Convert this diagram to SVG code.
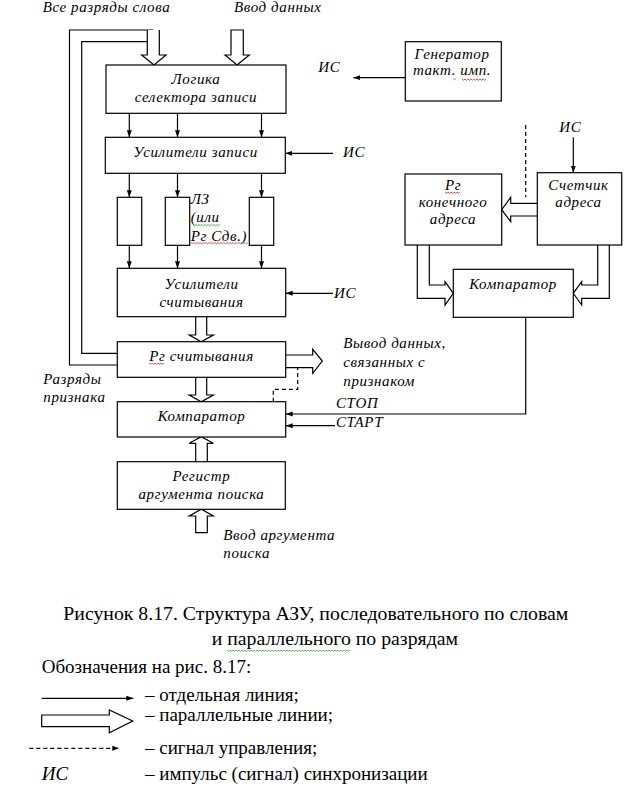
<svg xmlns="http://www.w3.org/2000/svg" width="629" height="800" viewBox="0 0 629 800">
<style>
.b{fill:#fff;stroke:#000;stroke-width:1.2}
.l{fill:none;stroke:#000;stroke-width:1.2}
.d{fill:none;stroke:#000;stroke-width:1.2;stroke-dasharray:4 3}
.w{fill:#fff;stroke:#000;stroke-width:1.2}
.t{font-family:"Liberation Serif","Times New Roman",serif;font-style:italic;font-size:15px;letter-spacing:0.6px;fill:#000}
.c{text-anchor:middle}
.r{font-family:"Liberation Serif","Times New Roman",serif;font-size:19px;fill:#000}
.cap{font-size:19.8px}
.sq{fill:none;stroke:#e02020;stroke-width:0.8}
.sg{fill:none;stroke:#30a030;stroke-width:0.8}
</style>
<defs>
<marker id="a" markerWidth="8" markerHeight="6" refX="7" refY="3" orient="auto" markerUnits="userSpaceOnUse">
<path d="M0,0.5 L7,3 L0,5.5 Z" fill="#000"/>
</marker>
</defs>
<rect width="629" height="800" fill="#fff"/>

<g id="connectors">
<polyline class="l" points="153,30 69.5,30 69.5,365 117.3,365"/>
<polyline class="l" points="147.3,41.7 81.7,41.7 81.7,353.3 117.3,353.3"/>
<path class="w" d="M147.3,30 V55 H141.7 L154,65 L166,55 H159.3 V30"/>
<path class="w" d="M231,30 V55 H225 L237,65 L249.3,55 H243.3 V30 Z"/>
<path class="w" d="M195.7,316.7 V335 H189.3 L201.2,341.7 L213.3,335 H206.7 V316.7"/>
<path class="w" d="M195.7,377.3 V395 H189.3 L201.2,401.7 L213.3,395 H206.7 V377.3"/>
<path class="w" d="M195.7,461.7 V443.3 H189.3 L201.3,436.7 L213.3,443.3 H207.3 V461.7"/>
<path class="w" d="M195.7,532.7 V516 H189.3 L201.3,509.3 L213.3,516 H207.3 V532.7 Z"/>
<path class="w" d="M285.7,355 H312.7 V349.3 L322.3,361 L312.7,373.3 V367.7 H285.7"/>
<path class="w" d="M537.3,203.3 H510.7 V197.3 L501.7,209.7 L510.7,221.7 V216 H537.3"/>
<path class="w" d="M429.3,245 V285 H445 V281.7 L453.3,293.3 L445,305 V298.3 H417.3 V245"/>
<path class="w" d="M597.7,245 V285 H581.7 V281.7 L573.3,293.3 L581.7,305 V298.3 H609.3 V245"/>
<line class="l" x1="129.3" y1="113.3" x2="129.3" y2="137.3" marker-end="url(#a)"/>
<line class="l" x1="177.5" y1="113.3" x2="177.5" y2="137.3" marker-end="url(#a)"/>
<line class="l" x1="261.5" y1="113.3" x2="261.5" y2="137.3" marker-end="url(#a)"/>
<line class="l" x1="129.3" y1="173.3" x2="129.3" y2="197.3" marker-end="url(#a)"/>
<line class="l" x1="177.5" y1="173.3" x2="177.5" y2="197.3" marker-end="url(#a)"/>
<line class="l" x1="261.5" y1="173.3" x2="261.5" y2="197.3" marker-end="url(#a)"/>
<line class="l" x1="129.3" y1="245.3" x2="129.3" y2="268.3" marker-end="url(#a)"/>
<line class="l" x1="177.5" y1="245.3" x2="177.5" y2="268.3" marker-end="url(#a)"/>
<line class="l" x1="261.5" y1="245.3" x2="261.5" y2="268.3" marker-end="url(#a)"/>
<line class="l" x1="333" y1="153.3" x2="285.3" y2="153.3" marker-end="url(#a)"/>
<line class="l" x1="333" y1="293.3" x2="285.7" y2="293.3" marker-end="url(#a)"/>
<line class="l" x1="405.3" y1="77.7" x2="353.3" y2="77.7" marker-end="url(#a)"/>
<line class="l" x1="573.3" y1="137.3" x2="573.3" y2="172.7" marker-end="url(#a)"/>
<line class="d" x1="525.7" y1="125" x2="525.7" y2="197.3"/>
<polyline class="l" points="525.7,317.3 525.7,414 285.7,414" marker-end="url(#a)"/>
<line class="l" x1="335" y1="425.7" x2="285.7" y2="425.7" marker-end="url(#a)"/>
<polyline class="d" points="273.3,401.7 273.3,389.3 297.7,389.3 297.7,367.7"/>
</g>

<g id="logic">
<rect class="b" x="106" y="65" width="180" height="48.3"/>
<text class="t c" x="196" y="84">Логика</text>
<text class="t c" x="196" y="102">селектора записи</text>
</g>
<g id="write-amp">
<rect class="b" x="105.3" y="137.3" width="180" height="36"/>
<text class="t c" x="195.5" y="157">Усилители записи</text>
</g>
<g id="dl1"><rect class="b" x="117.3" y="197.3" width="24.4" height="48"/></g>
<g id="dl2"><rect class="b" x="165.3" y="197.3" width="24.4" height="48"/></g>
<g id="dl3"><rect class="b" x="249.3" y="197.3" width="24.4" height="48"/></g>
<g id="read-amp">
<rect class="b" x="117.3" y="268.3" width="168.4" height="48.4"/>
<text class="t c" x="201.5" y="288.5">Усилители</text>
<text class="t c" x="201.5" y="307">считывания</text>
</g>
<g id="read-reg">
<rect class="b" x="117.3" y="341.7" width="168.4" height="35.6"/>
<text class="t c" x="201.5" y="360.5">Рг считывания</text>
<polyline class="sq" points="149,363 150.5,364.3 152,363 153.5,364.3 155,363 156.5,364.3 158,363 159.5,364.3 161,363 162.5,364.3 164,363"/>
</g>
<g id="comparator">
<rect class="b" x="117.3" y="401.7" width="168.4" height="35.3"/>
<text class="t c" x="201.5" y="421">Компаратор</text>
</g>
<g id="search-reg">
<rect class="b" x="117.3" y="461.7" width="168" height="47.6"/>
<text class="t c" x="201.5" y="480.5">Регистр</text>
<text class="t c" x="201.5" y="498.5">аргумента поиска</text>
</g>
<g id="generator">
<rect class="b" x="405.3" y="41.7" width="96" height="59.3"/>
<text class="t c" x="452" y="58.5">Генератор</text>
<text class="t c" x="452" y="75">такт. имп.</text>
<polyline class="sq" points="462,79 463.5,80.3 465,79 466.5,80.3 468,79 469.5,80.3 471,79 472.5,80.3 474,79 475.5,80.3 477,79 478.5,80.3 480,79 481.5,80.3 483,79 484.5,80.3 486,79"/>
<polyline class="sg" points="453,78.5 454.5,79.8 456,78.5"/>
</g>
<g id="end-addr">
<rect class="b" x="405" y="174" width="96.7" height="71"/>
<text class="t c" x="453" y="189.5">Рг</text>
<polyline class="sq" points="445,192 446.5,193.3 448,192 449.5,193.3 451,192 452.5,193.3 454,192 455.5,193.3 457,192 458.5,193.3 460,192"/>
<text class="t c" x="453" y="207">конечного</text>
<text class="t c" x="453" y="223.5">адреса</text>
</g>
<g id="counter">
<rect class="b" x="537.3" y="172.7" width="84.4" height="72.3"/>
<text class="t c" x="578.5" y="190">Счетчик</text>
<text class="t c" x="578.5" y="207">адреса</text>
</g>
<g id="comparator2">
<rect class="b" x="453.3" y="269.3" width="120" height="48"/>
<text class="t c" x="513" y="288.5">Компаратор</text>
</g>

<g id="labels">
<text class="t" x="42.7" y="12">Все разряды слова</text>
<text class="t" x="234" y="12">Ввод данных</text>
<text class="t" x="318.3" y="72">ИС</text>
<text class="t" x="343" y="157">ИС</text>
<text class="t" x="334" y="298">ИС</text>
<text class="t" x="559.3" y="132">ИС</text>
<text class="t" x="190.7" y="203.5">ЛЗ</text>
<text class="t" x="190.7" y="222">(или</text>
<polyline class="sg" points="193,224.5 194.5,225.8 196,224.5 197.5,225.8 199,224.5 200.5,225.8 202,224.5 203.5,225.8 205,224.5 206.5,225.8 208,224.5 209.5,225.8 211,224.5 212.5,225.8 214,224.5 215.5,225.8 217,224.5 218.5,225.8 220,224.5"/>
<text class="t" x="190.7" y="240.5">Рг Сдв.)</text>
<polyline class="sq" points="191,242.5 192.5,243.8 194,242.5 195.5,243.8 197,242.5 198.5,243.8 200,242.5 201.5,243.8 203,242.5 204.5,243.8 206,242.5 207.5,243.8 209,242.5 210.5,243.8 212,242.5 213.5,243.8 215,242.5 216.5,243.8 218,242.5 219.5,243.8 221,242.5 222.5,243.8 224,242.5 225.5,243.8 227,242.5 228.5,243.8 230,242.5 231.5,243.8 233,242.5 234.5,243.8 236,242.5 237.5,243.8 239,242.5"/>
<polyline class="sg" points="239,242.5 240.5,243.8 242,242.5 243.5,243.8 245,242.5 246.5,243.8 248,242.5"/>
<text class="t" x="343.3" y="348">Вывод данных,</text>
<text class="t" x="343.3" y="367">связанных с</text>
<text class="t" x="343.3" y="386">признаком</text>
<text class="t" x="43.3" y="383.5">Разряды</text>
<text class="t" x="43.3" y="402">признака</text>
<text class="t" x="336" y="408">СТОП</text>
<text class="t" x="336" y="427">СТАРТ</text>
<text class="t" x="223.3" y="540">Ввод аргумента</text>
<text class="t" x="223.3" y="558">поиска</text>
</g>

<g id="caption">
<text class="r cap" x="63.3" y="620">Рисунок 8.17. Структура АЗУ, последовательного по словам</text>
<text class="r cap" x="211.7" y="645">и параллельного по разрядам</text>
<polyline class="sg" points="227,650 228.5,651.3 230,650 231.5,651.3 233,650 234.5,651.3 236,650 237.5,651.3 239,650 240.5,651.3 242,650 243.5,651.3 245,650 246.5,651.3 248,650 249.5,651.3 251,650 252.5,651.3 254,650 255.5,651.3 257,650 258.5,651.3 260,650 261.5,651.3 263,650 264.5,651.3 266,650 267.5,651.3 269,650 270.5,651.3 272,650 273.5,651.3 275,650 276.5,651.3 278,650 279.5,651.3 281,650 282.5,651.3 284,650 285.5,651.3 287,650 288.5,651.3 290,650 291.5,651.3 293,650 294.5,651.3 296,650 297.5,651.3 299,650 300.5,651.3 302,650 303.5,651.3 305,650 306.5,651.3 308,650 309.5,651.3 311,650 312.5,651.3 314,650 315.5,651.3 317,650 318.5,651.3 320,650 321.5,651.3 323,650 324.5,651.3 326,650 327.5,651.3 329,650 330.5,651.3 332,650 333.5,651.3 335,650 336.5,651.3 338,650 339.5,651.3 341,650 342.5,651.3 344,650 345.5,651.3 347,650 348.5,651.3 350,650"/>
<text class="r" x="41.7" y="673">Обозначения на рис. 8.17:</text>
<line class="l" x1="41.7" y1="698.3" x2="133.3" y2="698.3" marker-end="url(#a)"/>
<text class="r" x="145" y="701">– отдельная линия;</text>
<path class="w" d="M41.7,715 H109.3 V710 L132.7,721 L109.3,732.7 V726.7 H41.7 Z"/>
<text class="r" x="145" y="720.5">– параллельные линии;</text>
<line class="d" x1="29.3" y1="748.3" x2="119.3" y2="748.3" marker-end="url(#a)"/>
<text class="r" x="145" y="753.5">– сигнал управления;</text>
<text class="r" x="41.7" y="780" style="font-style:italic">ИС</text>
<text class="r" x="145" y="780">– импульс (сигнал) синхронизации</text>
</g>
</svg>
